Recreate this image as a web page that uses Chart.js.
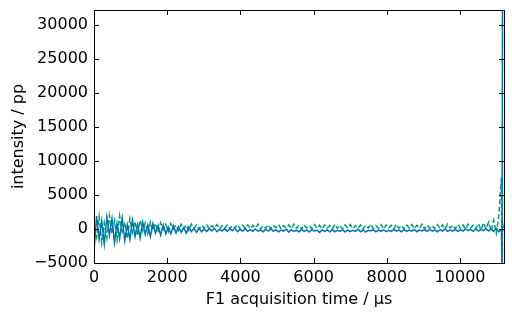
<!DOCTYPE html>
<html>
<head>
<meta charset="utf-8">
<script src="https://cdn.jsdelivr.net/npm/chart.js@4/dist/chart.umd.min.js"></script>
<style>
  html, body { margin: 0; padding: 0; background: #fff; }
  #wrap { width: 512px; height: 320px; }
</style>
</head>
<body>
<div id="wrap"><canvas id="chart" width="512" height="320"></canvas></div>
<script>
// sampling grid of the FID (µs between points)
var dwell = 70;

// blue, solid (one value every dwell µs, from 0)
var blueValues = [
  -3300, 1900, -1500, 1200, -2200, 1700, -900, 1500, -2000, 800,
  -1400, 1600, -1700, 600, -1500, 1300, -1100, 700, -1300, 1000,
  -800, 600, -1100, 800, -600, 500, -900, 600, -700, 300,
  -700, 500, -600, 300, -500, 200, -600, 300, -400, 100,
  -500, 100, -400, 0, -350, 50, -300, 100, -400, -50,
  -300, 50, -350, 0, -250, 100, -400, -50, -300, 50,
  -350, -100, -350, 0, -300, -150, -400, -50, -300, 50,
  -350, -100, -400, -150, -300, 0, -450, -100, -350, -200,
  -400, -50, -350, -150, -450, -100, -300, -200, -500, -100,
  -350, -150, -450, -50, -400, -200, -350, -100, -450, -150,
  -400, -200, -350, -50, -400, -150, -450, -200, -300, -100,
  -400, -150, -350, -100, -400, -200, -350, -50, -300, -150,
  -400, -100, -350, -150, -300, -50, -400, -150, -300, -100,
  -350, -50, -300, -150, -400, -100, -300, 0, -350, -150,
  -300, -50, -350, -100, -300, 0, -250, -100, -350, 0,
  -300, -100, -250, 50, -300, 0, -350, 100, -400, -100
];

// green, dashed (same grid)
var greenValues = [
  300, -1200, 1800, -2000, 900, -1300, 2000, -700, 1200, -1600,
  1900, -400, 1000, -1400, 1500, -500, 1100, -1000, 1300, -300,
  900, -700, 1000, -200, 800, -500, 900, -100, 700, -400,
  800, 0, 600, -200, 700, 0, 600, -200, 700, 100,
  600, 0, 550, 100, 600, -50, 500, 150, 650, 0,
  500, 100, 600, 50, 500, 150, 650, 0, 550, 100,
  600, 50, 550, 150, 700, 0, 500, 100, 600, 50,
  550, 200, 650, 0, 500, 150, 600, 50, 700, 100,
  550, 0, 600, 150, 500, 50, 650, 100, 550, 0,
  600, 150, 500, 50, 700, 100, 550, 0, 600, 150,
  650, 50, 500, 100, 600, 0, 550, 150, 700, 50,
  500, 100, 650, 0, 600, 150, 550, 50, 700, 100,
  500, 0, 600, 150, 650, 50, 550, 100, 700, 0,
  600, 150, 500, 50, 650, 100, 600, 0, 700, 150,
  550, 50, 650, 100, 600, 0, 700, 150, 550, 50,
  800, -100, 900, 0, 1000, -300, 1300, -600, 2000, 7600
];

// last few samples at the very end of the window
var tailTimes = [11145, 11160, 11200];
var blueTail = [-7000, 34000, 34000];
var greenTail = [-6000, 800, -300];

var xTicks = [0, 2000, 4000, 6000, 8000, 10000];
var yTicks = [-5000, 0, 5000, 10000, 15000, 20000, 25000, 30000];

function toPoints(values, tail) {
  var pts = values.map(function (v, i) { return { x: i * dwell, y: v }; });
  tail.forEach(function (v, i) { pts.push({ x: tailTimes[i], y: v }); });
  return pts;
}

function fmt(v) {
  return v < 0 ? "\u2212" + Math.abs(v) : String(v);
}

Chart.defaults.color = "#000";
Chart.defaults.font.family = "'DejaVu Sans', sans-serif";
Chart.defaults.font.size = 16;

// matplotlib-ish frame with inward ticks on all four sides
var frame = {
  id: "frame",
  afterDatasetsDraw: function (chart) {
    var ctx = chart.ctx, a = chart.chartArea;
    var xs = chart.scales.x, ys = chart.scales.y;
    var len = 5;
    ctx.save();
    ctx.strokeStyle = "#000";
    ctx.lineWidth = 1;
    ctx.beginPath();
    xTicks.forEach(function (t) {
      var px = Math.round(xs.getPixelForValue(t)) + 0.5;
      ctx.moveTo(px, a.bottom); ctx.lineTo(px, a.bottom - len);
      ctx.moveTo(px, a.top); ctx.lineTo(px, a.top + len);
    });
    yTicks.forEach(function (t) {
      var py = Math.round(ys.getPixelForValue(t)) + 0.5;
      ctx.moveTo(a.left, py); ctx.lineTo(a.left + len, py);
      ctx.moveTo(a.right, py); ctx.lineTo(a.right - len, py);
    });
    ctx.stroke();
    ctx.strokeRect(Math.round(a.left) + 0.5, Math.round(a.top) + 0.5,
      Math.round(a.right - a.left), Math.round(a.bottom - a.top));
    ctx.restore();
  }
};

new Chart(document.getElementById("chart").getContext("2d"), {
  type: "line",
  data: {
    datasets: [
      {
        label: "blue",
        data: toPoints(blueValues, blueTail),
        borderColor: "#0072B2",
        borderWidth: 1.5,
        pointRadius: 0,
        tension: 0
      },
      {
        label: "green",
        data: toPoints(greenValues, greenTail),
        borderColor: "#009E73",
        borderWidth: 1.5,
        borderDash: [5, 2.5],
        pointRadius: 0,
        tension: 0
      }
    ]
  },
  options: {
    responsive: false,
    animation: false,
    layout: { padding: { top: 10, right: 8, left: 0, bottom: 0 } },
    plugins: { legend: { display: false }, tooltip: { enabled: false } },
    scales: {
      x: {
        type: "linear",
        min: 0,
        max: 11200,
        grid: { display: false, drawTicks: false },
        border: { display: false },
        ticks: { padding: 5, maxRotation: 0, callback: fmt },
        afterBuildTicks: function (s) {
          s.ticks = xTicks.map(function (v) { return { value: v }; });
        },
        afterFit: function (s) { s.height = 57; s.paddingLeft = 0; s.paddingRight = 0; },
        title: { display: true, text: "F1 acquisition time / \u03bcs", padding: { top: 0, bottom: 11 } }
      },
      y: {
        type: "linear",
        min: -5000,
        max: 32200,
        grid: { display: false, drawTicks: false },
        border: { display: false },
        ticks: { padding: 6, callback: fmt },
        afterBuildTicks: function (s) {
          s.ticks = yTicks.map(function (v) { return { value: v }; });
        },
        afterFit: function (s) { s.width = 94; s.paddingTop = 0; s.paddingBottom = 0; },
        title: { display: true, text: "intensity / pp", padding: { top: 9, bottom: 0 } }
      }
    }
  },
  plugins: [frame]
});
</script>
</body>
</html>
